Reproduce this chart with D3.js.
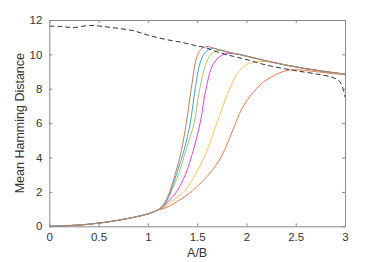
<!DOCTYPE html>
<html>
<head>
<meta charset="utf-8">
<script src="https://cdn.jsdelivr.net/npm/d3@7"></script>
<style>
  body { margin: 0; background: #fff; }
  svg { display: block; }
</style>
</head>
<body>
<div id="chart"></div>
<script>
// shared low part of every curve (A/B, mean distance)
const basePts = [[0, 0], [0.2, 0.04], [0.4, 0.12], [0.6, 0.26], [0.8, 0.46], [1.0, 0.72], [1.1, 0.95]];

// common upper tail that the curves collapse onto
const tailPts = [[1.8, 10.15], [2.0, 9.9], [2.2, 9.62], [2.4, 9.38], [2.6, 9.17], [2.8, 9.0], [3.0, 8.85]];

const brownPts = [[1.15, 1.2], [1.2, 1.7], [1.25, 2.5], [1.3, 3.5], [1.34, 4.4], [1.39, 6.0], [1.44, 8.0], [1.5, 9.9], [1.55, 10.35], [1.6, 10.45], [1.7, 10.3]];
const bluePts = [[1.15, 1.15], [1.2, 1.6], [1.25, 2.3], [1.3, 3.2], [1.37, 4.5], [1.43, 6.0], [1.48, 8.0], [1.53, 9.5], [1.58, 10.1], [1.65, 10.35], [1.72, 10.28]];
const greenPts = [[1.15, 1.1], [1.2, 1.55], [1.25, 2.2], [1.31, 3.0], [1.39, 4.5], [1.47, 6.0], [1.52, 7.8], [1.58, 9.3], [1.64, 10.0], [1.72, 10.25]];
const magentaPts = [[1.15, 1.08], [1.2, 1.4], [1.29, 2.0], [1.38, 3.0], [1.46, 4.4], [1.53, 6.0], [1.59, 8.0], [1.66, 9.4], [1.75, 9.95], [1.86, 10.05], [1.95, 9.98]];
const yellowPts = [[1.15, 1.05], [1.22, 1.35], [1.3, 1.7], [1.38, 2.1], [1.48, 3.0], [1.6, 4.4], [1.7, 6.0], [1.83, 8.0], [1.92, 9.0], [2.0, 9.4], [2.08, 9.55], [2.2, 9.58], [2.4, 9.38], [2.6, 9.17], [2.8, 9.0], [3.0, 8.85]];
const orangePts = [[1.15, 1.0], [1.3, 1.45], [1.45, 2.05], [1.55, 2.6], [1.63, 3.1], [1.74, 4.0], [1.82, 5.0], [1.89, 6.0], [1.97, 7.0], [2.1, 8.0], [2.2, 8.5], [2.37, 9.0], [2.48, 9.1], [2.7, 9.0], [2.85, 8.9], [3.0, 8.82]];

// dashed reference line
const dashedPts = [[0, 11.64], [0.12, 11.62], [0.24, 11.56], [0.41, 11.68], [0.62, 11.57], [0.85, 11.38], [1.0, 11.12], [1.19, 10.86], [1.36, 10.68], [1.49, 10.5], [1.58, 10.4], [1.7, 10.15], [1.87, 9.88], [2.0, 9.7], [2.2, 9.38], [2.48, 9.07], [2.71, 8.86], [2.88, 8.65], [2.95, 8.4], [2.98, 8.0], [3.0, 7.5]];

const xTicks = [0, 0.5, 1, 1.5, 2, 2.5, 3];
const yTicks = [0, 2, 4, 6, 8, 10, 12];

const series = [
  {pts: orangePts, color: "#ee7a52"},
  {pts: yellowPts, color: "#fbc45e"},
  {pts: magentaPts.concat(tailPts.filter(p => p[0] > 1.95)), color: "#e044e6"},
  {pts: greenPts.concat(tailPts), color: "#9ccc62"},
  {pts: bluePts.concat(tailPts), color: "#41a3e0"},
  {pts: brownPts.concat(tailPts), color: "#c57d58"}
];

const sizes = {width: 382, height: 262, margin: {top: 20, right: 37, bottom: 35.7, left: 49.3}};
const font = "'Liberation Sans', Arial, Helvetica, sans-serif";

const svg = d3.select("#chart").append("svg")
  .attr("width", sizes.width)
  .attr("height", sizes.height);

const x = d3.scaleLinear()
  .domain([0, 3])
  .range([sizes.margin.left, sizes.width - sizes.margin.right]);

const y = d3.scaleLinear()
  .domain([0, 12])
  .range([sizes.height - sizes.margin.bottom, sizes.margin.top]);

const line = d3.line()
  .curve(d3.curveCatmullRom.alpha(0.5))
  .x(d => x(d[0]))
  .y(d => y(d[1]));

// coloured curves
series.forEach(s => {
  svg.append("path")
    .attr("fill", "none")
    .attr("stroke", s.color)
    .attr("stroke-width", 1)
    .attr("d", line(basePts.concat(s.pts)));
});

svg.append("path")
  .attr("fill", "none")
  .attr("stroke", "#333")
  .attr("stroke-width", 1)
  .attr("stroke-dasharray", "5 3")
  .attr("d", line(dashedPts));

// axes: box with ticks on all four sides pointing inward
const axisColor = "#8a8a8a";
const tickStyle = g => {
  g.select(".domain").attr("stroke", axisColor);
  g.selectAll(".tick line").attr("stroke", axisColor);
  g.selectAll("text")
    .style("font-family", font)
    .style("font-size", "11.5px")
    .style("fill", "#333");
};

const x0 = sizes.margin.left, x1 = sizes.width - sizes.margin.right;
const y0 = sizes.height - sizes.margin.bottom, y1 = sizes.margin.top;

svg.append("g")
  .attr("transform", `translate(0,${y0})`)
  .call(d3.axisBottom(x).tickValues(xTicks).tickFormat(d3.format("")).tickSizeInner(-3).tickSizeOuter(0).tickPadding(7))
  .call(tickStyle);

svg.append("g")
  .attr("transform", `translate(0,${y1})`)
  .call(d3.axisTop(x).tickValues(xTicks).tickFormat("").tickSizeInner(-3).tickSizeOuter(0))
  .call(tickStyle);

svg.append("g")
  .attr("transform", `translate(${x0},0)`)
  .call(d3.axisLeft(y).tickValues(yTicks).tickSizeInner(-3).tickSizeOuter(0).tickPadding(7))
  .call(tickStyle);

svg.append("g")
  .attr("transform", `translate(${x1},0)`)
  .call(d3.axisRight(y).tickValues(yTicks).tickFormat("").tickSizeInner(-3).tickSizeOuter(0))
  .call(tickStyle);

// axis titles
svg.append("text")
  .text("A/B")
  .attr("x", (x0 + x1) / 2)
  .attr("y", 254)
  .attr("text-anchor", "middle")
  .attr("dominant-baseline", "middle")
  .style("font-family", font)
  .style("font-size", "12.5px")
  .style("fill", "#333");

svg.append("text")
  .text("Mean Hamming Distance")
  .attr("transform", `translate(21,${(y0 + y1) / 2}) rotate(-90)`)
  .attr("text-anchor", "middle")
  .attr("dominant-baseline", "middle")
  .style("font-family", font)
  .style("font-size", "12.5px")
  .style("fill", "#333");
</script>
</body>
</html>
